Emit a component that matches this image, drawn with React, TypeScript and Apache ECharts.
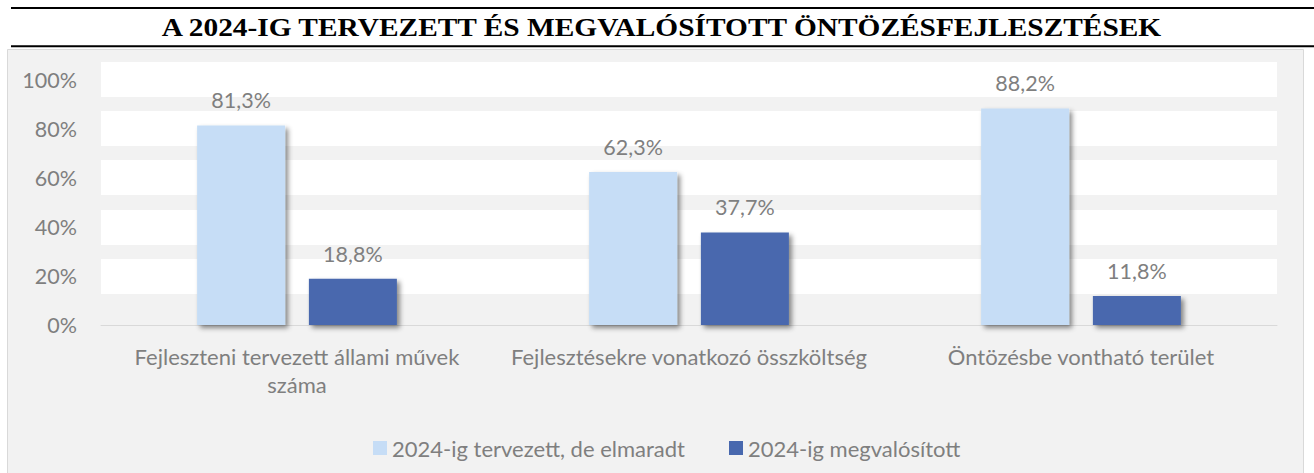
import React, { useEffect, useRef } from "react";
import * as echarts from "echarts";

const categories = [
  "Fejleszteni tervezett állami művek száma",
  "Fejlesztésekre vonatkozó összköltség",
  "Öntözésbe vontható terület",
];
const seriesNames = ["2024-ig tervezett, de elmaradt", "2024-ig megvalósított"];
const plannedMissed = [81.3, 62.3, 88.2];
const realized = [18.8, 37.7, 11.8];
const yTicks = { min: 0, max: 100, interval: 20 };
const titleText = "A 2024-IG TERVEZETT ÉS MEGVALÓSÍTOTT ÖNTÖZÉSFEJLESZTÉSEK";

const W = 1314;
const H = 473;
const FONT = "Lato, 'Open Sans', sans-serif";
const GREY = "#7f7f7f";
const WRAP_CHARS = 37;

function wrapLabel(s: string): string {
  if (s.length <= WRAP_CHARS) return s;
  const cut = s.lastIndexOf(" ", WRAP_CHARS);
  if (cut <= 0) return s;
  return s.slice(0, cut) + "\n" + s.slice(cut + 1);
}

export default function App() {
  const ref = useRef<HTMLDivElement>(null);
  useEffect(() => {
    document.body.style.margin = "0";
    if (!ref.current) return;
    const chart = echarts.init(ref.current, null, { renderer: "svg" });
    const fmt = (p: any) => String(p.value).replace(".", ",") + "%";
    const barStyle = (color: string) => ({
      color,
      shadowBlur: 5,
      shadowOffsetX: 3,
      shadowOffsetY: 3,
      shadowColor: "rgba(0,0,0,0.45)",
    });
    const dataLabel = {
      show: true,
      position: "top",
      distance: 14,
      color: GREY,
      fontSize: 21.5,
      fontFamily: FONT,
      formatter: fmt,
    };
    chart.setOption({
      animation: false,
      backgroundColor: "#ffffff",
      textStyle: { fontFamily: FONT },
      graphic: [
        {
          type: "rect",
          z: -10,
          silent: true,
          shape: { x: 7.5, y: 49.5, width: 1296, height: 430 },
          style: { fill: "#f2f2f2", stroke: "#d9d9d9", lineWidth: 1 },
        },
        {
          type: "line",
          shape: { x1: 11, y1: 8, x2: W, y2: 8 },
          style: { stroke: "#000", lineWidth: 2 },
        },
        {
          type: "line",
          shape: { x1: 11, y1: 46.3, x2: W, y2: 46.3 },
          style: { stroke: "#000", lineWidth: 2 },
        },
        {
          type: "text",
          x: 661.5,
          y: 27,
          scaleX: 1.13,
          style: {
            text: titleText,
            font: "bold 26px 'Liberation Serif', 'Times New Roman', serif",
            fill: "#000",
            align: "center",
            verticalAlign: "middle",
          },
        },
      ],
      legend: {
        data: seriesNames,
        left: 368,
        top: 432,
        itemWidth: 14,
        itemHeight: 14,
        itemGap: 44,
        icon: "rect",
        textStyle: { color: GREY, fontSize: 22, fontFamily: FONT },
      },
      grid: { left: 101, right: 37, top: 79.5, bottom: 148, containLabel: false },
      xAxis: {
        type: "category",
        data: categories,
        axisLine: { show: true, lineStyle: { color: "#d9d9d9", width: 1 } },
        axisTick: { show: false },
        axisLabel: {
          color: GREY,
          fontSize: 22,
          fontFamily: FONT,
          margin: 17,
          lineHeight: 28,
          interval: 0,
          formatter: (v: string) => wrapLabel(v),
        },
      },
      yAxis: {
        type: "value",
        min: yTicks.min,
        max: yTicks.max,
        interval: yTicks.interval,
        axisLine: { show: false },
        axisTick: { show: false },
        axisLabel: {
          color: GREY,
          fontSize: 21.5,
          fontFamily: FONT,
          margin: 24,
          formatter: (v: number) => v + "%",
        },
        splitLine: {
          show: true,
          showMinLine: false,
          lineStyle: { color: "#ffffff", width: 35 },
        },
      },
      series: [
        {
          name: seriesNames[0],
          type: "bar",
          data: plannedMissed,
          barWidth: 88,
          barGap: "27%",
          itemStyle: barStyle("#c6ddf6"),
          label: dataLabel,
        },
        {
          name: seriesNames[1],
          type: "bar",
          data: realized,
          barWidth: 88,
          barGap: "27%",
          itemStyle: barStyle("#4868ae"),
          label: dataLabel,
        },
      ],
    });
    return () => chart.dispose();
  }, []);
  return <div ref={ref} style={{ width: W, height: H }} />;
}
